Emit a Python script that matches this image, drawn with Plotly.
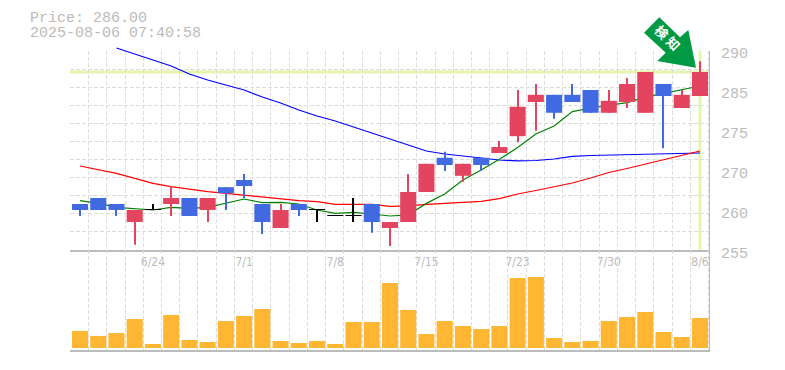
import plotly.graph_objects as go

GRID = "#dddddd"
AXIS = "#bbbbbb"
TXT = "#bbbbbb"
UP = "#e34460"
DOWN = "#4169e1"
FLAT = "#000000"

title_price = "Price: 286.00"
title_time = "2025-08-06 07:40:58"
badge_glyphs = ["検", "知"]

opens = [264,265,264,261,263,264,265,263,266.8,268,264,260,264,263,262,262,264,260,261,266,271.7,268.7,271.7,272.5,275.3,281,282.2,282.2,283,279.2,281,279.2,284,280,282]
closes = [263,263,263,263,263,265,262,265,265.8,267,261,263,263,263,262,262,261,261,266,270.7,270.5,270.7,270.5,273.5,280.2,282.2,279.2,281,279.2,281.2,284,286,282,282.2,286]
highs = [264,265,264,263,264,267,265,265,266.8,269,264,264,264,263,262,265,264,261,269,270.7,272.7,270.7,271.7,274.5,283,284,282.2,284,283,283,285,286,284,283,287.8]
lows = [262,263,262,257.2,263,262,262,261,263,265,259,260,262,261,262,261,259.2,257,261,266,269.5,267.7,269.5,272.5,274.3,276.2,278.2,281,279.2,279.2,280,279.2,273.3,280,282]

ma_short = [264.56,264.11,263.44,263.22,263,263.44,263.28,263.44,264.11,264.83,264.22,264.28,264,263,262.44,262.6,262.33,262,262.17,264.1,265.67,268,269.67,271.44,273.4,275.67,277,279.4,280,280.5,280.9,281.8,282.44,283,283.67]
ma_mid = [270.33,269.67,269.1,268.28,267.44,266.9,266.44,266.06,265.78,265.5,265.17,264.83,264.56,264.4,263.94,263.94,263.94,263.6,263.67,263.94,264.1,264.28,264.44,264.9,265.67,266.25,266.83,267.5,268.33,269.25,269.92,270.67,271.33,272.17,272.83]
ma_long = [None,None,290,289,288,287,285.67,284.67,283.83,283,281.83,280.83,279.67,278.67,277.83,276.83,275.83,274.83,273.83,272.83,272.33,272,271.75,271.33,271.17,271.25,271.5,271.92,272.08,272.17,272.25,272.25,272.33,272.42,272.5]

volumes = [17,12,15,29,4,33,8,6,27,32,39,7,5,7,4,26,26,65,38,14,27,22,19,22,70,71,10,6,7,27,31,36,16,11,30]

date_pos = [4,9,14,19,24,29,34]
date_labels = ["6/24","7/1","7/8","7/15","7/23","7/30","8/6"]
price_tick_pos = [289.17,282.5,275.83,269.17,262.5,255.83]
price_tick_labels = ["290","285","275","270","260","255"]

idx = list(range(len(opens)))
YMIN, YMAX, YTOP = 256.33, 289.5, 290.167
PX_PER_YEN = 6
PLOT_H = 303

colors = [UP if c > o else DOWN if c < o else FLAT for o, c in zip(opens, closes)]

fig = go.Figure()
fig.add_trace(go.Bar(x=idx, y=volumes, marker=dict(color="#ffb733", line=dict(width=0)), width=0.88,
                     xaxis="x2", yaxis="y2", showlegend=False))
# moving averages get their own taller subplot, because the long one starts just above the grid
for vals, col in [(ma_long, "#0000ff"), (ma_mid, "#ff0000"), (ma_short, "#008000")]:
    fig.add_trace(go.Scatter(x=idx, y=vals, mode="lines", line=dict(color=col, width=1.2),
                             showlegend=False, xaxis="x3", yaxis="y3"))
# candles come last so that they sit on top of the moving averages
fig.add_trace(go.Bar(x=idx, y=[h - l for h, l in zip(highs, lows)], base=lows, width=0.06,
                     marker=dict(color=colors, line=dict(width=0)), xaxis="x4", yaxis="y4", showlegend=False))
fig.add_trace(go.Bar(x=idx, y=[max(abs(c - o), 0.1) for o, c in zip(opens, closes)],
                     base=[min(o, c) for o, c in zip(opens, closes)], width=0.88,
                     marker=dict(color=colors, line=dict(width=0)), xaxis="x4", yaxis="y4", showlegend=False))

xr = [-0.548, 34.55]
DASH = "4px,2px"
xcommon = dict(range=xr, showgrid=False, zeroline=False, showline=True, linecolor=AXIS, linewidth=2,
               minor=dict(showgrid=True, gridcolor=GRID, griddash=DASH, gridwidth=1, tick0=-0.53, dtick=1, ticklen=0))

def paper_x(x):
    return (x - 70) / 640

def paper_y(y):
    return (350 - y) / PLOT_H

arrow = [(659.3, 17.3), (644, 32.7), (665.7, 52.7), (657.3, 61), (696, 67.7), (688.3, 30), (680, 37.3)]
arrow_path = "M " + " L ".join("%.4f %.4f" % (paper_x(a), paper_y(b)) for a, b in arrow) + " Z"
glyph_pos = [(660.7, 33.3), (672, 44.7)]
split = 100 / PLOT_H
grid_top = paper_y(51)

fig.update_layout(
    width=777, height=362, autosize=False, paper_bgcolor="white", plot_bgcolor="rgba(0,0,0,0)",
    margin=dict(l=62, r=75, t=39, b=20), barmode="overlay",
    xaxis=dict(domain=[0, 1], anchor="y",
               tickmode="array", tickvals=date_pos, ticktext=date_labels, ticks="",
               tickfont=dict(family="DejaVu Sans Condensed, DejaVu Sans", size=12, color=TXT), **xcommon),
    xaxis2=dict(domain=[0, 1], anchor="y2", showticklabels=False, ticks="", **xcommon),
    xaxis3=dict(domain=[0, 1], anchor="y3", range=xr, visible=False),
    xaxis4=dict(domain=[0, 1], anchor="y4", range=xr, visible=False),
    yaxis=dict(domain=[split, grid_top], range=[YMIN, YMAX], anchor="x", zeroline=False, showline=False, showgrid=False,
               showticklabels=False, ticks="",
               minor=dict(showgrid=True, gridcolor=GRID, griddash=DASH, gridwidth=1, tick0=YMIN, dtick=3.015, ticklen=0)),
    yaxis2=dict(domain=[0, split], range=[-2, 98], anchor="x2", zeroline=False, showline=False, showgrid=False,
                showticklabels=False, ticks=""),
    yaxis3=dict(domain=[split, 1], range=[YMIN, YTOP], anchor="x3", visible=False),
    yaxis4=dict(domain=[split, grid_top], range=[YMIN, YMAX], anchor="x4", visible=False),
    shapes=[
        dict(type="line", xref="x", yref="y", x0=xr[0], x1=xr[1], y0=closes[-1], y1=closes[-1],
             line=dict(color="#e4f5ae", width=3), layer="below"),
        dict(type="line", xref="x", yref="y", x0=idx[-1], x1=idx[-1], y0=YMIN, y1=YMAX,
             line=dict(color="#e4f5ae", width=3), layer="below"),
        dict(type="line", xref="x", yref="paper", x0=xr[1], x1=xr[1], y0=0, y1=grid_top,
             line=dict(color=AXIS, width=2), layer="above"),
        dict(type="path", xref="paper", yref="paper", fillcolor="#009944", line=dict(width=0), layer="above",
             path=arrow_path),
    ] + [
        dict(type="rect", xref="paper", yref="paper", layer="above", line=dict(width=0),
             fillcolor="rgba(0,0,0,0)",
             x0=paper_x(a - 7), x1=paper_x(a + 7), y0=paper_y(b + 7), y1=paper_y(b - 7),
             label=dict(text="<b>%s</b>" % g, textangle=45, textposition="middle center",
                        font=dict(family="Noto Sans CJK JP", size=13, color="#ffffff")))
        for g, (a, b) in zip(badge_glyphs, glyph_pos)
    ],
    annotations=[
        dict(text=title_price, xref="paper", yref="paper", x=-0.066, y=paper_y(18), xanchor="left", yanchor="middle", showarrow=False,
             font=dict(family="Liberation Mono", size=15, color=TXT)),
        dict(text=title_time, xref="paper", yref="paper", x=-0.066, y=paper_y(33), xanchor="left", yanchor="middle", showarrow=False,
             font=dict(family="Liberation Mono", size=15, color=TXT)),
    ] + [
        dict(text=t, xref="paper", yref="y", x=paper_x(719), y=max(v, YMIN), yshift=min(v - YMIN, 0) * PX_PER_YEN - 1.5,
             xanchor="left", yanchor="middle", showarrow=False,
             font=dict(family="Liberation Mono", size=15, color=TXT))
        for t, v in zip(price_tick_labels, price_tick_pos)
    ],
)
fig.write_html("out.html")
